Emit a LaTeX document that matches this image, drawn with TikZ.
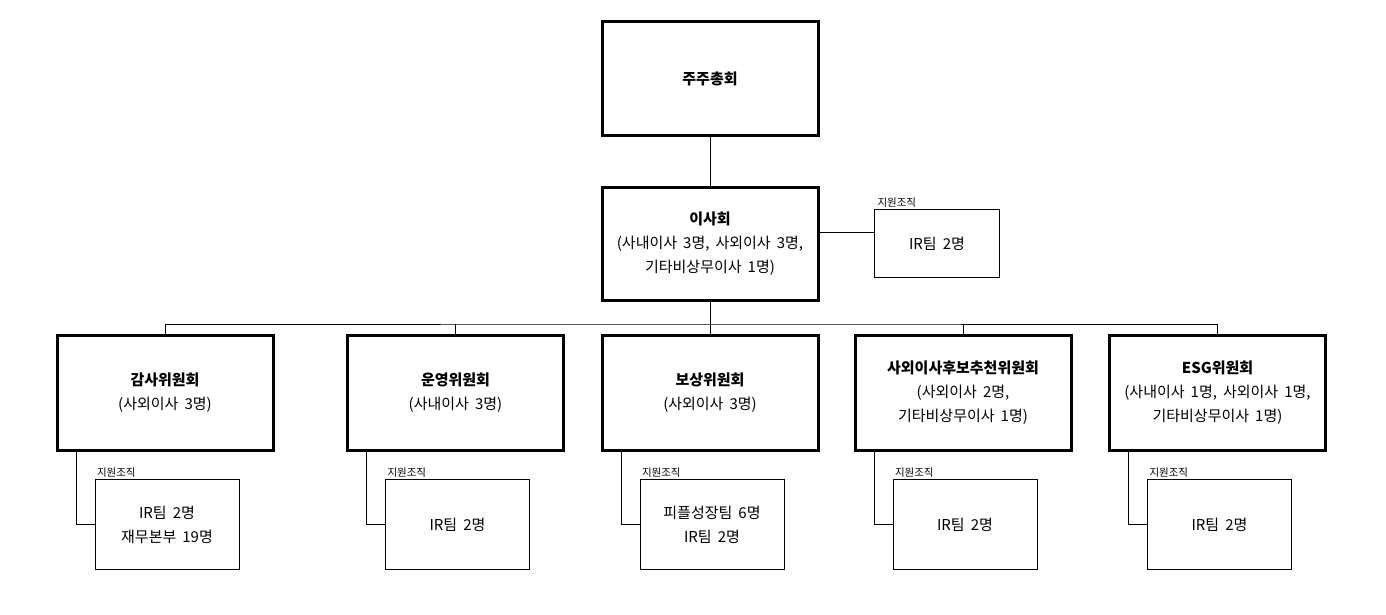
\documentclass[tikz,border=0pt]{standalone}
\usepackage{fontspec}
\setmainfont{Noto Sans CJK KR}[WordSpace=1.8]
\usetikzlibrary{positioning}
\tikzset{
    orgbox/.style={draw, line width=3pt, minimum width=216pt, minimum height=114pt, align=center, inner sep=0pt, outer sep=0pt, font=\fontsize{15}{24}\selectfont},
    supbox/.style={draw, line width=1pt, minimum width=144pt, minimum height=90pt, align=center, inner sep=0pt, outer sep=0pt, font=\fontsize{15}{24}\selectfont},
    tag/.style={inner sep=0pt, outer sep=0pt, font=\fontsize{10.5}{12}\selectfont},
    link/.style={line width=1pt}
}

\begin{document}
\begin{tikzpicture}[x=1pt, y=-1pt]
\useasboundingbox (0,0) rectangle (1386,615);

% top levels
\node[orgbox] (gm) at (710,78.5) {\textbf{주주총회}};
\node[orgbox, minimum height=113pt] (board) at (710,244) {\textbf{이사회}\\(사내이사 3명, 사외이사 3명,\\기타비상무이사 1명)};
\node[supbox, minimum width=125pt, minimum height=68pt] (bir) at (937,243.5) {IR팀 2명};
\node[tag, above right=2.5pt and 3pt of bir.north west] (birtag) {지원조직};

% committees
\node[orgbox, minimum height=115pt] (c1) at (165,393) {\textbf{감사위원회}\\(사외이사 3명)};
\node[orgbox, minimum height=115pt] (c2) at (455.5,393) {\textbf{운영위원회}\\(사내이사 3명)};
\node[orgbox, minimum height=115pt] (c3) at (710,393) {\textbf{보상위원회}\\(사외이사 3명)};
\node[orgbox, minimum height=115pt] (c4) at (963,393) {\textbf{사외이사후보추천위원회}\\(사외이사 2명,\\기타비상무이사 1명)};
\node[orgbox, minimum height=115pt] (c5) at (1217.5,393) {\textbf{ESG위원회}\\(사내이사 1명, 사외이사 1명,\\기타비상무이사 1명)};

% support teams
\node[supbox, below right=29pt and 38pt of c1.south west] (s1) {IR팀 2명\\재무본부 19명};
\node[supbox, below right=29pt and 38pt of c2.south west] (s2) {IR팀 2명};
\node[supbox, below right=29pt and 38pt of c3.south west] (s3) {피플성장팀 6명\\IR팀 2명};
\node[supbox, below right=29pt and 38pt of c4.south west] (s4) {IR팀 2명};
\node[supbox, below right=29pt and 38pt of c5.south west] (s5) {IR팀 2명};
\node[tag, above right=2.5pt and 2pt of s1.north west] (t1) {지원조직};
\node[tag, above right=2.5pt and 2pt of s2.north west] (t2) {지원조직};
\node[tag, above right=2.5pt and 2pt of s3.north west] (t3) {지원조직};
\node[tag, above right=2.5pt and 2pt of s4.north west] (t4) {지원조직};
\node[tag, above right=2.5pt and 2pt of s5.north west] (t5) {지원조직};

% connectors
\coordinate (bus) at (710,324);
\draw[link] (gm) -- (board);
\draw[link] ([yshift=12pt]board.east) -- ([yshift=12pt]board.east -| bir.west);
\draw[link] (board) -- (c3);
\draw[link] (c1.north) |- (bus) -| (c5.north);
\draw[link] (c2.north) -- (c2.north |- bus);
\draw[link] (c4.north) -- (c4.north |- bus);
\draw[link] ([xshift=19pt]c1.south west) |- (s1.west);
\draw[link] ([xshift=19pt]c2.south west) |- (s2.west);
\draw[link] ([xshift=19pt]c3.south west) |- (s3.west);
\draw[link] ([xshift=19pt]c4.south west) |- (s4.west);
\draw[link] ([xshift=19pt]c5.south west) |- (s5.west);
\end{tikzpicture}
\end{document}
